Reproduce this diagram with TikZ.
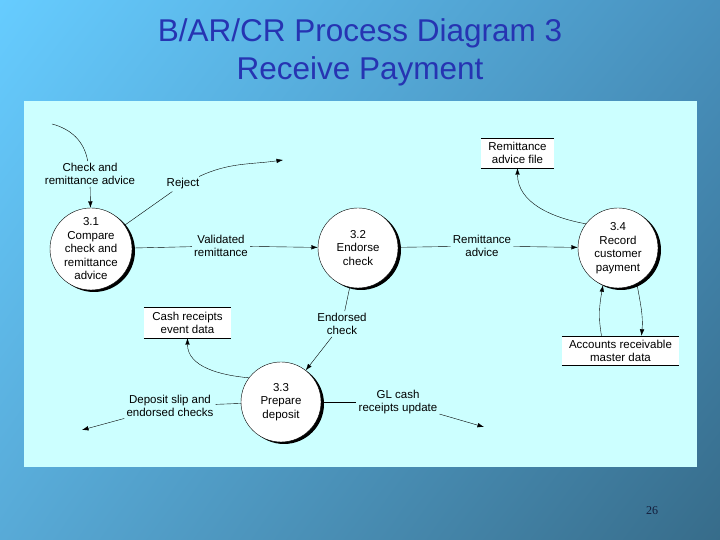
\documentclass[tikz,border=0pt]{standalone}
\usepackage{fontspec}
\setmainfont{Liberation Sans}
\newfontfamily\pagenumfont{Liberation Serif}
\usetikzlibrary{shadings,shadows}
\usetikzlibrary{arrows.meta}

\definecolor{titleblue}{RGB}{38,52,178}
\definecolor{panelcyan}{RGB}{204,255,255}
\definecolor{bgtl}{RGB}{102,204,255}
\definecolor{bgtr}{RGB}{72,145,190}
\definecolor{bgbl}{RGB}{88,170,215}
\definecolor{bgbr}{RGB}{55,108,138}
\definecolor{pagenavy}{RGB}{20,30,60}

\begin{document}
\begin{tikzpicture}[x=1pt,y=1pt,>={Latex[length=6.5pt,width=4.5pt]},
  process/.style={draw,fill=white,circle,minimum size=80pt,inner sep=0pt,align=center,
    font=\fontsize{11.5}{13.5}\selectfont,
    drop shadow={shadow xshift=3pt,shadow yshift=-2pt,fill=black,opacity=1}},
  store/.style={fill=white,inner sep=0pt,align=center,font=\fontsize{11.5}{13}\selectfont},
  flowlabel/.style={inner sep=2pt,align=center,font=\fontsize{11.5}{13}\selectfont}]
\useasboundingbox (0,0) rectangle (720,540);
\shade[upper left=bgtl,upper right=bgtr,lower left=bgbl,lower right=bgbr] (0,0) rectangle (720,540);
\fill[panelcyan] (24,73) rectangle (697,439);

\node[text=titleblue,font=\fontsize{31.5}{38}\selectfont,align=center] (title) at (360,488)
  {B/AR/CR Process Diagram 3\\Receive Payment};

% processes
\node[process] (p31) at (91,291) {3.1\\Compare\\check and\\remittance\\advice};
\node[process] (p32) at (358,292) {3.2\\Endorse\\check};
\node[process] (p33) at (281,138) {3.3\\Prepare\\deposit};
\node[process] (p34) at (618,292) {3.4\\Record\\customer\\payment};

% data stores
\node[store,minimum width=73pt,minimum height=30pt] (raf) at (517.5,387) {Remittance\\advice file};
\node[store,minimum width=87pt,minimum height=31pt] (cre) at (187.5,217.5) {Cash receipts\\event data};
\node[store,minimum width=117pt,minimum height=29pt] (arm) at (620.5,189.5) {Accounts receivable\\master data};
\foreach \s in {raf,cre,arm} {
  \draw (\s.north west) -- (\s.north east) (\s.south west) -- (\s.south east);
}

% flow labels
\node[flowlabel] (lblcheck) at (90,366) {Check and\\remittance advice};
\node[flowlabel] (lblreject) at (183,356) {Reject};
\node[flowlabel] (lblvalid) at (221,294) {Validated\\remittance};
\node[flowlabel] (lblremit) at (482,294) {Remittance\\advice};
\node[flowlabel] (lblendorse) at (342,216) {Endorsed\\check};
\node[flowlabel] (lbldeposit) at (170,134) {Deposit slip and\\endorsed checks};
\node[flowlabel] (lblgl) at (398,138) {GL cash\\receipts update};

\coordinate (chkin) at (52,416);
\coordinate (rejend) at (283,380);
\coordinate (depend) at (82,110);
\coordinate (glend) at (484,113);

% flows
\draw (chkin) to[out=-15,in=100] (lblcheck);
\draw[->] (lblcheck) -- (p31);
\draw (p31) -- (lblreject);
\draw[->] (lblreject) to[out=25,in=188] (rejend);
\draw (p31) -- (lblvalid);
\draw[->] (lblvalid) -- (p32);
\draw (p32) -- (lblremit);
\draw[->] (lblremit) -- (p34);
\draw[->] (p34.143) to[out=170,in=-90] (raf.south);
\draw[->] ([xshift=-19pt]arm.north) to[out=100,in=-100] (p34.-112);
\draw[->] (p34.-62) to[out=-80,in=85] ([xshift=21pt]arm.north);
\draw (p32) -- (lblendorse);
\draw[->] (lblendorse) -- (p33);
\draw[->] (p33.143) to[out=175,in=-90] (cre.south);
\draw (p33) -- (lbldeposit);
\draw[->] (lbldeposit) -- (depend);
\draw (p33) -- (lblgl);
\draw[->] (lblgl) -- (glend);

\node[text=pagenavy,font=\pagenumfont\fontsize{12}{14}\selectfont] (pagenum) at (652,29) {26};
\end{tikzpicture}
\end{document}
